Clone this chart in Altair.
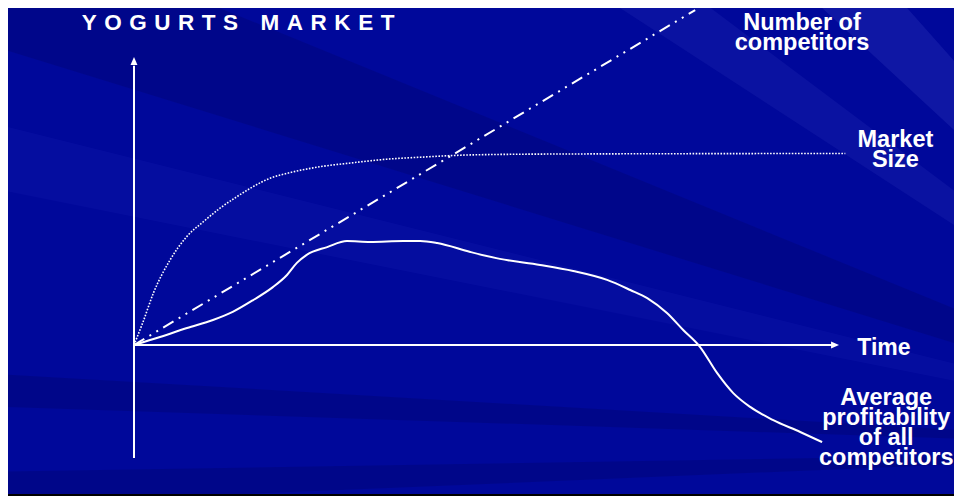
import altair as alt
import pandas as pd

# ---- canvas geometry (plot area = whole picture, fits the 962x504 window) ----
W, H = 946, 488
SX, SY = 7.05, 2.88          # pixels per data unit
OX, OY = 126, 337            # origin of the time axis inside the plot area

# ---- data (time units 0..100, value units 0..100) ----
market_x = [0, 1.28, 2.74, 5.11, 7.47, 9.83, 12.2, 14.6, 16.9, 19.3, 21.7, 26.4, 31.1, 35.8, 40.6, 47.7, 59.0, 100.9]
market_y = [0, 8.0, 17.95, 29.5, 37.6, 42.8, 47.5, 51.5, 55.0, 57.9, 59.6, 61.9, 63.3, 64.5, 65.2, 66.0, 66.3, 66.5]

competitors_x = [0, 79.6]
competitors_y = [0, 116.3]

profit_x = [0, 3.69, 7.52, 11.2, 14.0, 16.9, 19.7, 21.7, 23.1, 24.5, 27.4, 30.2, 33.5, 38.2, 40.6, 43.0,
            47.7, 51.9, 57.6, 62.3, 67.1, 70.4, 72.8, 75.6, 77.9, 80.3, 82.7, 85.0, 87.4, 90.6, 94.5, 97.6]
profit_y = [0, 2.78, 5.90, 8.68, 11.5, 15.6, 20.1, 24.3, 28.5, 31.3, 34.0, 36.1, 35.8, 36.1, 36.1, 35.4,
            32.3, 29.9, 27.8, 25.7, 22.6, 19.1, 16.3, 11.1, 5.2, -0.7, -9.7, -16.7, -21.5, -26.0, -30.2, -33.7]

# axes (drawn as arrows)
axis_x1 = [0, 0]
axis_y1 = [-39.2, 0]
axis_x2 = [0, 99]
axis_y2 = [97, 0]
arrow_x = [0, 100]
arrow_y = [100, 0]
arrow_dir = ["up", "right"]

# labels
label_text = ["Number of\ncompetitors", "Market\nSize", "Average\nprofitability\nof all\ncompetitors"]
label_x = [94.75, 108.0, 106.7]
label_y = [109.3, 68.6, -20.8]

time_label = "Time"
time_x, time_y = 102.6, -3.5

SP = "\u2004"
title_text = SP.join("YOGURTS") + SP * 3 + SP.join("MARKET")
title_x, title_y = -7.4, 109.3

# background rays (decoration): band edges on the left border (picture px), colour, opacity
ray_top = [-1035, -540, -90, 120, 373, 472]
ray_bot = [-771, -408, 42, 186, 406, 505]
ray_col = ["#8fa0ff", "#8fa0ff", "#000030", "#5060ff", "#000030", "#000030"]
ray_op = [0.10, 0.07, 0.15, 0.06, 0.16, 0.16]
RAY_APEX = (1300, 450)       # where the rays converge, picture pixels

FONT = "Liberation Sans"
BG = "#00089a"

def ux(px):
    return (px - 8 - OX) / SX

def uy(py):
    return (OY - (py - 8)) / SY

xs = alt.Scale(domain=[-OX / SX, (W - OX) / SX], nice=False, zero=False)
ys = alt.Scale(domain=[-(H - OY) / SY, OY / SY], nice=False, zero=False)

def X(f="x"):
    return alt.X(f"{f}:Q", scale=xs, axis=None)

def Y(f="y"):
    return alt.Y(f"{f}:Q", scale=ys, axis=None)

ray_layers = []
for t, b, c, o in zip(ray_top, ray_bot, ray_col, ray_op):
    df = pd.DataFrame({
        "x": [ux(-20), ux(RAY_APEX[0])],
        "y": [uy(t), uy(RAY_APEX[1])],
        "y2": [uy(b), uy(RAY_APEX[1])],
    })
    ray_layers.append(
        alt.Chart(df).mark_area(fill=c, fillOpacity=o, clip=True).encode(
            x=X(), y=Y(), y2="y2:Q")
    )

market_df = pd.DataFrame({"x": market_x, "y": market_y})
comp_df = pd.DataFrame({"x": competitors_x, "y": competitors_y})
profit_df = pd.DataFrame({"x": profit_x, "y": profit_y})
axes_df = pd.DataFrame({"x": axis_x1, "y": axis_y1, "x2": axis_x2, "y2": axis_y2})
arrow_df = pd.DataFrame({"x": arrow_x, "y": arrow_y, "d": arrow_dir})
labels_df = pd.DataFrame({"x": label_x, "y": label_y, "t": label_text})
time_df = pd.DataFrame({"x": [time_x], "y": [time_y], "t": [time_label]})
title_df = pd.DataFrame({"x": [title_x], "y": [title_y], "t": [title_text]})

frame = alt.Chart(title_df).mark_rule(color="black", strokeWidth=2).encode(
    x=alt.value(0), x2=alt.value(W), y=alt.value(H - 1))

axes = alt.Chart(axes_df).mark_rule(color="white", strokeWidth=2).encode(
    x=X(), y=Y(), x2="x2:Q", y2="y2:Q")

arrow_up = alt.Chart(arrow_df[arrow_df.d == "up"]).mark_point(
    shape="M0,0L-1,2.3L1,2.3Z", filled=True, color="white", opacity=1, size=48, strokeWidth=0
).encode(x=X(), y=Y())
arrow_right = alt.Chart(arrow_df[arrow_df.d == "right"]).mark_point(
    shape="M0,0L-2.3,-1L-2.3,1Z", filled=True, color="white", opacity=1, size=48, strokeWidth=0
).encode(x=X(), y=Y())

market = alt.Chart(market_df).mark_line(
    color="white", strokeWidth=1.6, strokeDash=[1.6, 1.5], interpolate="monotone"
).encode(x=X(), y=Y(), order="x:Q")

comp = alt.Chart(comp_df).mark_line(
    color="white", strokeWidth=2, strokeDash=[12, 6, 2, 6, 2, 6]
).encode(x=X(), y=Y(), order="x:Q")

profit = alt.Chart(profit_df).mark_line(
    color="white", strokeWidth=2, interpolate="monotone"
).encode(x=X(), y=Y(), order="x:Q")

labels = alt.Chart(labels_df).mark_text(
    font=FONT, fontWeight="bold", fontSize=23.5, lineHeight=20, lineBreak="\n",
    align="center", baseline="alphabetic", color="white"
).encode(x=X(), y=Y(), text="t:N")

time_txt = alt.Chart(time_df).mark_text(
    font=FONT, fontWeight="bold", fontSize=23, align="left", baseline="alphabetic", color="white"
).encode(x=X(), y=Y(), text="t:N")

title = alt.Chart(title_df).mark_text(
    font=FONT, fontWeight="bold", fontSize=22.5, align="left", baseline="alphabetic", color="white"
).encode(x=X(), y=Y(), text="t:N")

chart = alt.layer(*ray_layers, frame, axes, arrow_up, arrow_right, market, comp, profit,
                  labels, time_txt, title).properties(
    width=W, height=H, padding=0, autosize=alt.AutoSizeParams(type="none"), background=BG
).configure_view(stroke=None)

chart.save("out.html", embed_options={"renderer": "svg", "actions": False})
